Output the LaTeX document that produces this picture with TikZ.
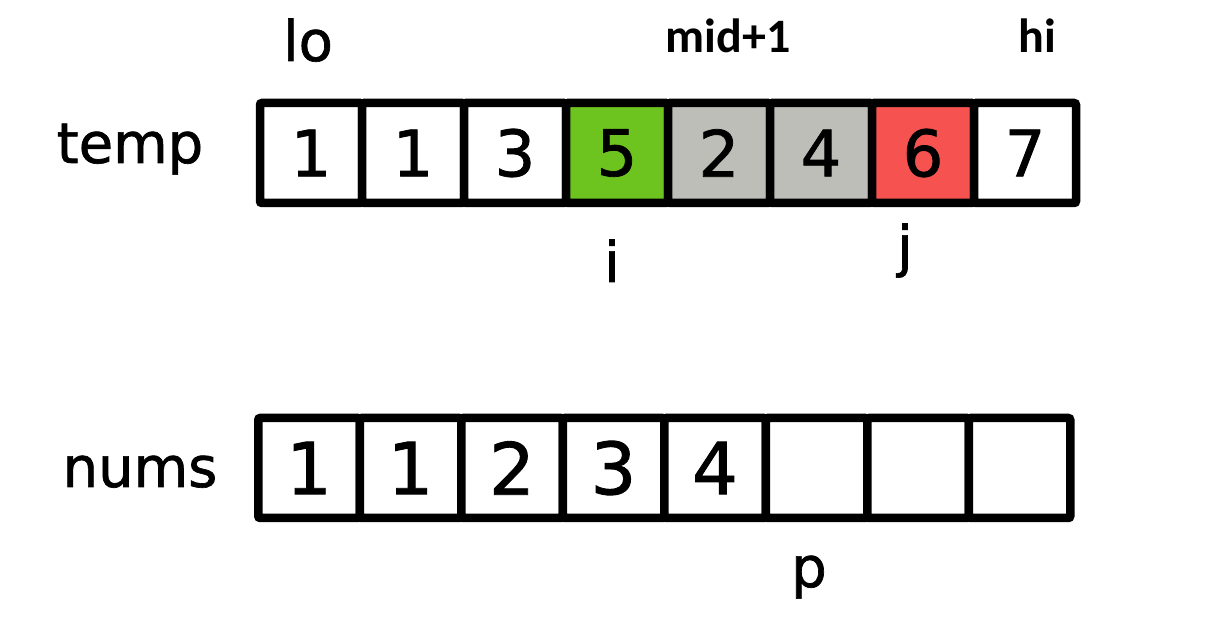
\documentclass[tikz,border=0pt]{standalone}
\usepackage{fontspec}
\setmainfont{DejaVu Sans}
\newfontfamily\handfont[FakeBold=1.2]{DejaVu Sans}
\newfontfamily\calibrifont{Carlito}
\usetikzlibrary{positioning}
\definecolor{lessgreen}{RGB}{110,196,30}
\definecolor{donegray}{RGB}{190,190,184}
\definecolor{greatred}{RGB}{246,82,80}
\tikzset{
  cell/.style={draw, line width=8.5pt, rounded corners=2pt, minimum width=102pt,
    minimum height=100pt, inner sep=0pt, outer sep=0pt, fill=white,
    font=\handfont\fontsize{64}{64}\selectfont},
  numcell/.style={cell, minimum width=101.5pt, font=\handfont\fontsize{72}{72}\selectfont},
  tag/.style={anchor=base, inner sep=0pt, font=\handfont\fontsize{56}{56}\selectfont},
  bound/.style={anchor=base, inner sep=0pt, font=\calibrifont\bfseries\fontsize{48}{48}\selectfont}
}
\begin{document}
\begin{tikzpicture}[x=1pt, y=1pt, node distance=0pt]
    \useasboundingbox (0,0) rectangle (1210,618);
    \node[cell] (t1) at (311,465) {1};
    \node[cell, right=of t1] (t2) {1};
    \node[cell, right=of t2] (t3) {3};
    \node[cell, right=of t3, fill=lessgreen] (t4) {5};
    \node[cell, right=of t4, fill=donegray] (t5) {2};
    \node[cell, right=of t5, fill=donegray] (t6) {4};
    \node[cell, right=of t6, fill=greatred] (t7) {6};
    \node[cell, right=of t7] (t8) {7};

    \node[numcell] (n1) at (309,150) {1};
    \node[numcell, right=of n1] (n2) {1};
    \node[numcell, right=of n2] (n3) {2};
    \node[numcell, right=of n3] (n4) {3};
    \node[numcell, right=of n4] (n5) {4};
    \node[numcell, right=of n5] (n6) {};
    \node[numcell, right=of n6] (n7) {};
    \node[numcell, right=of n7] (n8) {};

    \node[tag] (temp) at (130,455) {temp};
    \node[tag] (nums) at (140,131) {nums};
    \node[tag] (lo) at (308,557) {lo};
    \node[bound] (mid) at (728,565) {mid+1};
    \node[bound] (hi) at (1037,565) {hi};
    \node[tag] (i) at (612,336) {i};
    \node[tag] (j) at (905,352) {j};
    \node[tag] (p) at (809,31) {p};
\end{tikzpicture}
\end{document}
